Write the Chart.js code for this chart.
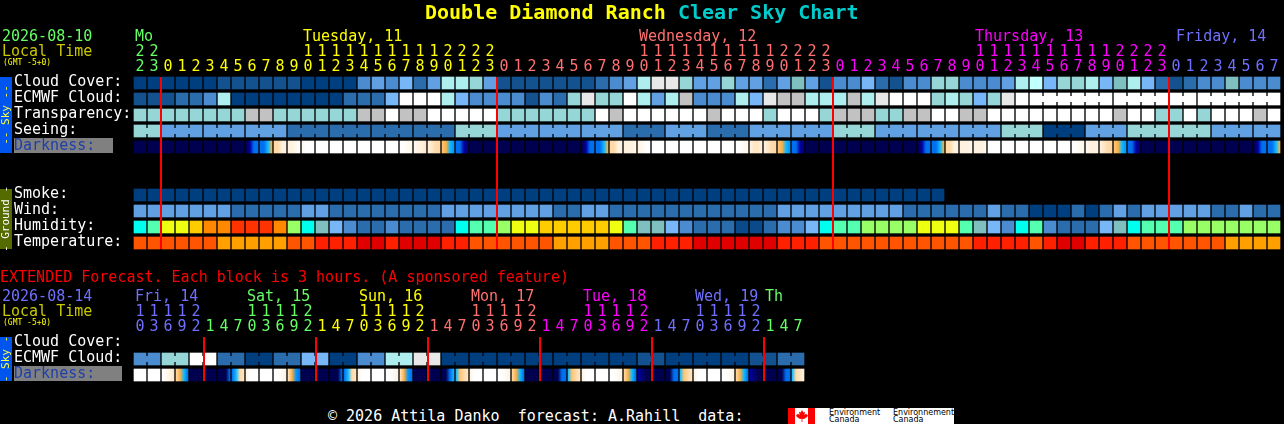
<!DOCTYPE html>
<html>
<head>
<meta charset="utf-8">
<title>Double Diamond Ranch Clear Sky Chart</title>
<script src="https://cdn.jsdelivr.net/npm/chart.js@4/dist/chart.umd.min.js"></script>
<style>
  html, body { margin: 0; background: #000; overflow: hidden; }
  #page { position: relative; width: 1284px; height: 424px; font-family: "DejaVu Sans Mono", monospace; }
  canvas { position: absolute; left: 0; }
  .txt { position: absolute; white-space: pre; font-size: 15px; line-height: 16px; }
  #logo { position: absolute; left: 788px; top: 408px; width: 166px; height: 16px; background: #fff; overflow: hidden; }
  #logo i { position: absolute; top: 0; width: 7px; height: 16px; background: #f00; }
  #logo span { position: absolute; top: 1px; font: 8px/7px "DejaVu Sans", sans-serif; color: #000; }
</style>
</head>
<body>
<div id="page">
  <canvas id="top" width="1284" height="260" style="top:0"></canvas>
  <canvas id="ext" width="1284" height="130" style="top:260px"></canvas>
  <div class="txt" style="left:425px;top:1px;font-size:20px;line-height:22px;font-weight:bold;color:#ff0">Double Diamond Ranch <span style="color:#0cc">Clear Sky Chart</span></div>
  <div class="txt" style="left:0;top:269px;color:#f00">EXTENDED Forecast. Each block is 3 hours. (A sponsored feature)</div>
  <div class="txt" style="left:328px;top:408px;color:#fff">© 2026 Attila Danko  forecast: A.Rahill  data:</div>
  <div id="logo">
    <i style="left:0"></i><i style="left:20px"></i>
    <svg width="14" height="12" viewBox="0 0 14 12" style="position:absolute;left:7px;top:2px"><path fill="#f00" d="M7 0 L8.4 2.4 L10 1.8 L9.4 5 L11 3.8 L13 5.4 L12 7 L9 9 L7.4 8.8 L7.4 12 L6.6 12 L6.6 8.8 L5 9 L2 7 L1 5.4 L3 3.8 L4.6 5 L4 1.8 L5.6 2.4 Z"/></svg>
    <span style="left:41px">Environment<br>Canada</span>
    <span style="left:105px">Environnement<br>Canada</span>
  </div>
</div>
<script>
// forecast hours, one block per hour
const topHours = [22,23,
  0,1,2,3,4,5,6,7,8,9,10,11,12,13,14,15,16,17,18,19,20,21,22,23,
  0,1,2,3,4,5,6,7,8,9,10,11,12,13,14,15,16,17,18,19,20,21,22,23,
  0,1,2,3,4,5,6,7,8,9,10,11,12,13,14,15,16,17,18,19,20,21,22,23,
  0,1,2,3,4,5,6,7];
const extHours = [10,13,16,19,22, 1,4,7,10,13,16,19,22, 1,4,7,10,13,16,19,22, 1,4,7,10,13,16,19,22,
  1,4,7,10,13,16,19,22, 1,4,7,10,13,16,19,22, 1,4,7];

// sky scale levels
const cloudCover = [0,0,0,0,0,0,1,1,1,1, 1,1,0,0,0,0,3,4,3,5, 2,4,8,8,7,4,1,1,1,1,
  1,1,1,2,3,4,8,10,10,7, 4,4,7,4,4,2,4,6,4,1, 3,3,5,2,1,3,3,7,7,3,
  3,3,4,8,9,5,7,7,8,5, 6,8,5,2,1,2,3,3,6,3, 3,3];
const ecmwfCloud = [1,1,1,2,2,3,8,0,0,0, 0,0,0,0,0,2,2,2,5,11, 11,11,8,5,3,3,3,3,1,3,
  2,7,10,7,7,11,8,4,8,12, 3,3,3,8,5,10,12,12,8,8, 8,12,8,10,11,11,11,7,8,7,
  5,7,10,11,11,11,11,11,11,11, 11,11,11,11,11,11,11,11,11,11, 11,11];
const ecmwfBlocks = [1,1,1,1,1,1,1,1,1,1,1,1,1,1,1,1,1,1,1,1,1,1,1,1,1,1,1,1,1,1,1,1,
  1,1,1,1,1,1,1,1,1,1,1,1,1,1,1,1,1,1,1,1,1,1,1,1,1,1,1,1,1,1,1,1, 6,6,6];
const transparency = [7,7,7,7,7,7,7,7,12,12, 7,7,7,7,7,7,12,12,11,12, 12,11,11,11,11,11,7,7,7,7,
  7,7,7,11,12,11,11,11,11,11, 11,12,11,11,11,7,11,11,11,7, 12,12,12,7,7,12,12,11,11,12,
  12,11,11,11,11,11,11,11,11,11, 12,11,11,7,7,11,7,11,11,11, 12,11];
const seeing = [7,7,4,4,4,4,4,4,4,4, 4,2,2,2,2,2,2,2,2,2, 2,2,2,7,7,7,4,4,4,4,
  4,4,4,4,4,2,2,2,4,4, 4,2,2,2,4,4,4,4,4,4, 7,7,7,4,4,4,4,4,4,4,
  4,4,7,7,7,0,0,0,4,4, 4,7,7,7,7,7,7,4,4,4, 4,4];
const seeingBlocks = [2,3,3,3,3,3,3,3,3,3,3,3,3,3,3,3,3,3,3,3,3,3,3,3,3,3,3,2];
// darkness: four readings across each block
const darkness = [
  [0,0,0,0],[0,0,0,0],[0,0,0,0],[0,0,0,0],[0,0,0,0],[0,0,0,0],[0,0,0,0],[0,0,0,0],
  [0,1,2,2],[2,2,3,4],[5,5,6,6],[6,6,6.5,7],[6.5,7,7,7],
  [7,7,7,7],[7,7,7,7],[7,7,7,7],[7,7,7,7],[7,7,7,7],[7,7,7,7],
  [7,7,6.5,6.5],[6.5,6,6,5.5],[6,5.5,5,5],[4.5,4,3,2.5],[2,2,1,0.5],
  [0,0,0,0],[0,0,0,0],[0,0,0,0],[0,0,0,0],[0,0,0,0],[0,0,0,0],[0,0,0,0],[0,0,0,0],
  [0,1,2,2],[2,2,3,4],[5,5,6,6],[6,6,6,6.5],[6,6.5,7,7],
  [7,7,7,7],[7,7,7,7],[7,7,7,7],[7,7,7,7],[7,7,7,7],[7,7,7,7],
  [7,7,6.5,6.5],[6,5.5,5.5,6],[6,5.5,5,5],[4.5,4,3,2.5],[2,2,1,0.5],
  [0,0,0,0],[0,0,0,0],[0,0,0,0],[0,0,0,0],[0,0,0,0],[0,0,0,0],[0,0,0,0],[0,0,0,0],
  [0,1,2,2],[2,2,3,4],[5,5,6,6],[6,6,6,6.5],[6,6,6,6.5],
  [7,7,7,7],[7,7,7,7],[7,7,7,7],[7,7,7,7],[7,7,7,7],[7,7,7,7],
  [7,7,6.5,6.5],[6.5,6,6,6],[6,5.5,5,5],[4.5,4,3,2.5],[2,2,1,0.5],
  [0,0,0,0],[0,0,0,0],[0,0,0,0],[0,0,0,0],[0,0,0,0],[0,0,0,0],[0,0,0,0],[0,0,0,0],
  [0,1,2,2],[2,2,3,4]
];

// ground scale levels, null = no forecast
const smoke = [0,0,0,0,0,0,0,0,0,0, 0,0,0,0,0,0,0,0,0,0, 0,0,0,0,0,0,0,0,0,0,
  0,0,0,0,0,0,0,0,0,0, 0,0,0,0,0,0,0,0,0,0, 0,0,0,0,0,0,0,0,null,null,
  null,null,null,null,null,null,null,null,null,null, null,null,null,null,null,null,null,null,null,null, null,null];
const wind = [4,4,4,4,4,4,4,2,2,2, 2,2,4,4,2,2,2,2,2,2, 2,2,4,4,4,4,4,4,4,4,
  2,2,4,4,2,2,2,2,2,2, 2,2,2,2,2,2,4,4,4,4, 4,4,4,4,4,2,2,2,2,2,
  2,4,2,2,0,0,0,2,0,2, 4,2,4,4,4,4,4,2,2,4, 2,2];
const humidity = [5,6,8,8,9,10,10,11,11,11, 10,7,5,4,3,2,1,1,2,1, 1,1,1,5,6,6,7,8,8,9,
  9,9,9,9,8,6,4,4,3,2, 1,1,1,0,0,1,2,2,3,5, 6,6,7,7,7,7,8,8,8,6,
  4,3,2,5,6,2,1,1,1,3, 4,5,6,6,6,7,7,7,7,7, 7,7];
const temperature = [1,1,1,1,1,1,0,0,0,0, 0,1,1,2,2,2,3,3,2,3, 3,3,2,2,1,1,1,1,1,1,
  0,0,0,0,1,1,1,2,2,2, 3,3,3,3,3,3,2,2,2,1, 1,1,1,1,1,1,1,1,1,1,
  2,2,2,2,1,2,3,3,2,2, 2,1,1,1,1,1,1,1,0,0, 0,0];

// extended forecast, 3 hour blocks
const extCloud = extHours.map(() => null);
const extEcmwf = [3,3,7,7,11,11,2,2,0,0, 2,2,5,5,0,0,3,3,8,8, 10,10,0,0,0,0,0,0,0,0,
  0,0,0,0,0,0,1,1,0,0, 0,0,0,0,1,1,2,2];
const extEcmwfBlocks = [2,2,2,2,2,2,2,2,2,2,2,2,2,2,2,2,2,2,2,2,2,2,2,2];
const extDarkness = [
  [7,7,7,7],[7,7,7,7],[7,6.5,6,5.5],[5,4,3,2],[0,0,0,0],[0,0,0,0],[0,0,0,2],[2,3,5,5.5],
  [6,7,7,7],[7,7,7,7],[7,7,6.5,6],[5.5,4,2.5,2],[0,0,0,0],[0,0,0,0],[0,0,0,2],[2,3,5,5.5],
  [6,7,7,7],[7,7,7,7],[7,7,6.5,6],[5.5,4,2.5,2],[0,0,0,0],[0,0,0,0],[0,0,2,3],[3,4.5,5,5.5],
  [6,7,7,7],[7,7,7,7],[7,7,6.5,6],[5,4,3,2],[0,0,0,0],[0,0,0,0],[0,0,2,2],[3,4.5,5,5.5],
  [6,7,7,7],[7,7,7,7],[7,7,6.5,6],[5,4,3,2],[1,0.5,0,0],[0,0,0,0],[0,0,2,2],[3,4.5,5,5.5],
  [6,7,7,7],[7,7,7,7],[7,7,6.5,6],[5,4,3,2],[1,0.5,0,0],[0,0,0,0],[0,0,2,2],[3,5,5.5,6]
];

const topRowNames = ["Cloud Cover:","ECMWF Cloud:","Transparency:","Seeing:","Darkness:","","","Smoke:","Wind:","Humidity:","Temperature:"];
const extRowNames = ["Cloud Cover:","ECMWF Cloud:","Darkness:"];

const topDays = ["Mo","Tuesday, 11","Wednesday, 12","Thursday, 13","Friday, 14"];
const topDayAnchors = [0,12,36,60,74.36];
const topDayStarts = [0,2,26,50,74];
const topMidnights = [2,26,50,74];
const extDays = ["Fri, 14","Sat, 15","Sun, 16","Mon, 17","Tue, 18","Wed, 19","Th"];
const extDayAnchors = [0,8,16,24,32,40,45];
const extDayStarts = [0,5,13,21,29,37,45];
const extMidnights = [5,13,21,29,37,45];

// colours
const green = "#66ff66", yellow = "#ffff00", pink = "#ff7070", magenta = "#ff00ff", blue = "#7070ff";
const topDayColors = [green, yellow, pink, magenta, blue];
const extDayColors = [blue, green, yellow, pink, magenta, blue, green];
const skyColors = ["#003f7f","#13528f","#2b6cad","#4b8bcf","#60a0e3","#77b7f7","#80bfbf","#96d6d6","#aeeeee","#c2ffff","#e8e8e8","#ffffff","#c2c2c2"];
const humColors = ["#0a4a8a","#2b6cad","#4b8bcf","#77b7f7","#80bfbf","#00ffee","#55ffb0","#99ff66","#eeff11","#ffcc00","#ff8800","#ff3300"];
const tempColors = ["#ffa000","#ff5500","#ff2000","#e00000"];
const darkRamp = [[0,0,80],[0,0,160],[0,112,240],[16,184,255],[255,176,64],[255,217,168],[255,242,224],[255,255,255]];
const monoFont = '"DejaVu Sans Mono", monospace';

function rampColor(v) {
  const i = Math.min(Math.floor(v), darkRamp.length - 2), f = v - i;
  const c = darkRamp[i].map((a, k) => Math.round(a + (darkRamp[i + 1][k] - a) * f));
  return `rgb(${c[0]},${c[1]},${c[2]})`;
}

function cellRange(row) { return [row - 0.375, row + 0.375]; }

function heatRow(row, values, palette) {
  return {
    type: "bar", order: 1,
    data: values.map(v => v === null ? null : cellRange(row)),
    backgroundColor: values.map(v => v === null ? "transparent" : palette[v])
  };
}

// smooth bar for the darkness row
function darkRow(row, samples) {
  return {
    type: "bar", order: 1,
    data: samples.map(() => cellRange(row)),
    backgroundColor(ctx) {
      const s = samples[ctx.dataIndex];
      if (!s) return "#000";
      const x = ctx.chart.scales.x.getPixelForValue(ctx.dataIndex);
      if (!isFinite(x)) return "#000";
      const g = ctx.chart.ctx.createLinearGradient(x - 6, 0, x + 6, 0);
      s.forEach((v, i) => g.addColorStop(i / (s.length - 1), rampColor(v)));
      return g;
    }
  };
}

// thin band joining the cells of a forecast block
function linkRow(row, values, palette, blocks) {
  const blockOf = [];
  blocks.forEach((n, b) => { for (let i = 0; i < n; i++) blockOf.push(b); });
  return {
    type: "line", order: 2, borderWidth: 6, pointRadius: 0, tension: 0, borderCapStyle: "butt",
    data: values.map(() => row),
    segment: {
      borderColor: c => blockOf[c.p0DataIndex] === blockOf[c.p1DataIndex] ? palette[values[c.p0DataIndex]] : "transparent"
    }
  };
}

const decorPlugin = {
  id: "decor",
  beforeDraw(chart, args, o) {
    const c = chart.ctx, y = chart.scales.y;
    c.save();
    // darkness label highlight
    const yd = y.getPixelForValue(o.darkRow);
    c.fillStyle = "#808080";
    c.fillRect(14, yd - 9, o.darkWidth, 15);
    c.restore();
  },
  afterDraw(chart, args, o) {
    const c = chart.ctx, x = chart.scales.x, y = chart.scales.y;
    c.save();
    // midnight lines
    c.fillStyle = "#ff0000";
    const top = y.getPixelForValue(-0.375), bottom = y.getPixelForValue(o.lastRow + 0.375);
    o.midnights.forEach(col => c.fillRect(x.getPixelForValue(col) - o.lineShift, top, 2, bottom - top));
    // sky and ground side bands
    o.sides.forEach(s => {
      const a = y.getPixelForValue(s.from - 0.375), b = y.getPixelForValue(s.to + 0.375);
      c.fillStyle = s.fill;
      c.fillRect(0, a, 12, b - a);
      c.save();
      c.translate(6, (a + b) / 2);
      c.rotate(-Math.PI / 2);
      c.fillStyle = s.color;
      c.font = "11px " + monoFont;
      c.textAlign = "center";
      c.textBaseline = "middle";
      c.fillText(s.text, 0, 0);
      c.restore();
    });
    // date block and day names above the hour ticks
    c.textBaseline = "middle";
    c.textAlign = "left";
    c.font = "15px " + monoFont;
    c.fillStyle = o.dateColor;
    c.fillText(o.date, 2, 37);
    c.fillStyle = "#c8c800";
    c.fillText("Local Time", 2, 52);
    c.font = "8px " + monoFont;
    c.fillStyle = "#ffff00";
    c.fillText("(GMT -5+0)", 3, 63);
    c.font = "15px " + monoFont;
    o.days.forEach((d, i) => {
      c.fillStyle = o.dayColors[i];
      c.fillText(d, x.getPixelForValue(o.dayAnchors[i]) - 5, 37);
    });
    c.restore();
  }
};

function hourLines(h) {
  const s = String(h);
  return s.length > 1 ? [s[0], s[1]] : ["", s];
}

function colorForCol(col, starts, colors) {
  let k = 0;
  starts.forEach((s, i) => { if (col >= s) k = i; });
  return colors[k];
}

function makeChart(id, cfg) {
  return new Chart(document.getElementById(id), {
    type: "bar",
    data: { labels: cfg.hours, datasets: cfg.datasets },
    plugins: [decorPlugin],
    options: {
      responsive: false,
      animation: false,
      events: [],
      grouped: false,
      barThickness: 12,
      spanGaps: false,
      layout: { padding: { left: 14, right: cfg.rightPad, top: 0, bottom: cfg.bottomPad } },
      plugins: { legend: { display: false }, tooltip: { enabled: false }, decor: cfg.decor },
      scales: {
        x: {
          position: "top",
          offset: true,
          grid: { display: false },
          border: { display: false },
          afterFit(s) { s.height = 75; },
          ticks: {
            autoSkip: false, maxRotation: 0, minRotation: 0, padding: -8,
            font: { family: monoFont, size: 15, lineHeight: "15px" },
            color: c => colorForCol(c.index, cfg.dayStarts, cfg.dayColors),
            callback: (v, i) => hourLines(cfg.hours[i])
          }
        },
        y: {
          reverse: true,
          min: -0.5,
          max: cfg.rowNames.length - 0.5,
          grid: { display: false },
          border: { display: false },
          afterFit(s) { s.width = 119; },
          afterBuildTicks(s) { s.ticks = cfg.rowNames.map((_, i) => ({ value: i })); },
          ticks: {
            autoSkip: false, crossAlign: "far", padding: 0,
            // blank second line lifts the label a little above the cell centre
            font: { family: monoFont, size: 15, lineHeight: "2px" },
            color: c => cfg.rowNames[c.tick.value] === "Darkness:" ? "#1f3fa8" : "#ffffff",
            callback: v => [cfg.rowNames[v], ""]
          }
        }
      }
    }
  });
}

makeChart("top", {
  hours: topHours,
  rowNames: topRowNames,
  dayStarts: topDayStarts,
  dayColors: topDayColors,
  rightPad: 3,
  bottomPad: 9,
  datasets: [
    heatRow(0, cloudCover, skyColors),
    heatRow(1, ecmwfCloud, skyColors),
    linkRow(1, ecmwfCloud, skyColors, ecmwfBlocks),
    heatRow(2, transparency, skyColors),
    heatRow(3, seeing, skyColors),
    linkRow(3, seeing, skyColors, seeingBlocks),
    darkRow(4, darkness),
    heatRow(7, smoke, skyColors),
    heatRow(8, wind, skyColors),
    heatRow(9, humidity, humColors),
    heatRow(10, temperature, tempColors)
  ],
  decor: {
    darkRow: 4, darkWidth: 99, lastRow: 10, lineShift: 8,
    midnights: topMidnights,
    date: "2026-08-10", dateColor: green,
    days: topDays, dayAnchors: topDayAnchors, dayColors: topDayColors,
    sides: [
      { from: 0, to: 4, fill: "#0055ee", color: "#ffff44", text: "-- Sky --" },
      { from: 7, to: 10, fill: "#556b00", color: "#ffffff", text: "- Ground -" }
    ]
  }
});

makeChart("ext", {
  hours: extHours,
  rowNames: extRowNames,
  dayStarts: extDayStarts,
  dayColors: extDayColors,
  rightPad: 479,
  bottomPad: 7,
  datasets: [
    heatRow(0, extCloud, skyColors),
    heatRow(1, extEcmwf, skyColors),
    linkRow(1, extEcmwf, skyColors, extEcmwfBlocks),
    darkRow(2, extDarkness)
  ],
  decor: {
    darkRow: 2, darkWidth: 108, lastRow: 2, lineShift: 7,
    midnights: extMidnights,
    date: "2026-08-14", dateColor: blue,
    days: extDays, dayAnchors: extDayAnchors, dayColors: extDayColors,
    sides: [{ from: 0, to: 2, fill: "#0055ee", color: "#ffff44", text: "- Sky -" }]
  }
});
</script>
</body>
</html>
